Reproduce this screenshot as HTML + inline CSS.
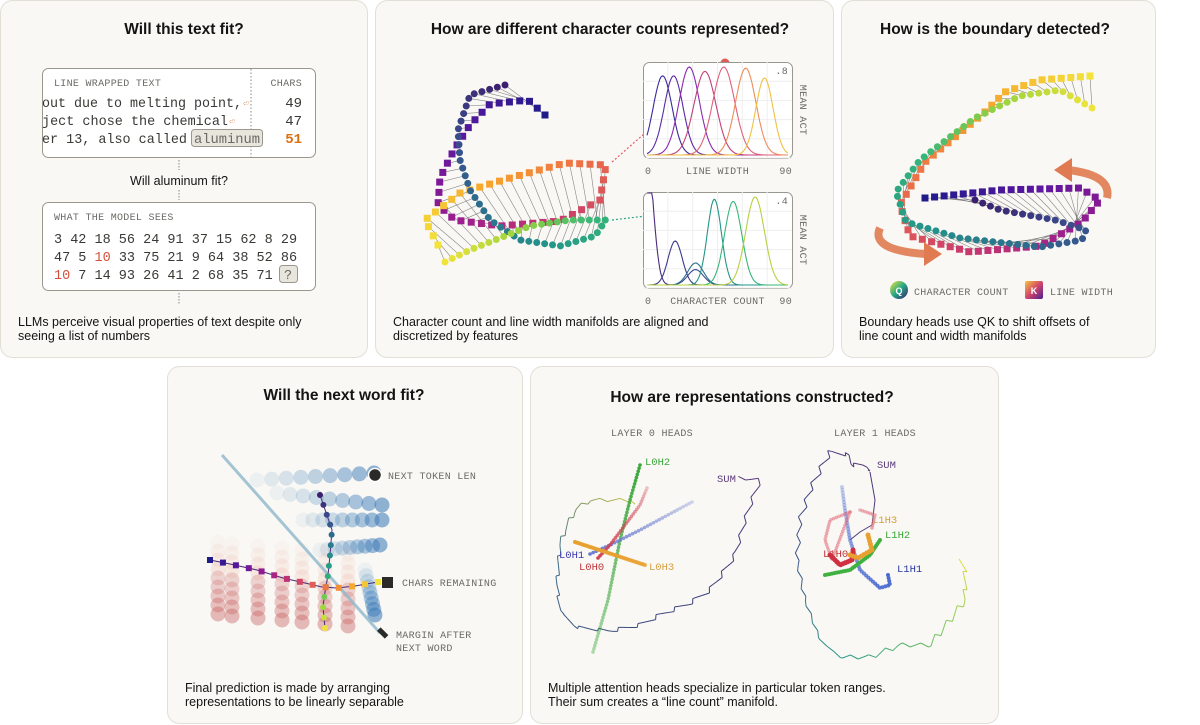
<!DOCTYPE html>
<html><head><meta charset="utf-8">
<style>
html,body{margin:0;padding:0;background:#fff;}
svg{display:block;font-family:"Liberation Sans",sans-serif;}
.mono{font-family:"Liberation Mono",monospace;}
.title{font-weight:bold;font-size:15.5px;fill:#141413;}
.cap{font-size:12.5px;fill:#141413;}
.lbl{font-family:"Liberation Mono",monospace;font-size:10px;fill:#6b6a66;letter-spacing:0.3px;}
</style></head>
<body>
<svg id="root" width="1200" height="725" viewBox="0 0 1200 725" xmlns="http://www.w3.org/2000/svg">
<g fill="#f9f8f4" stroke="#e2dfd6" stroke-width="1">
<rect x="0.5" y="0.5" width="367" height="357" rx="12"/>
<rect x="375.5" y="0.5" width="458" height="357" rx="12"/>
<rect x="841.5" y="0.5" width="314" height="357" rx="12"/>
<rect x="167.5" y="366.5" width="355" height="357" rx="12"/>
<rect x="530.5" y="366.5" width="468" height="357" rx="12"/>
</g>

<g>
<text x="184" y="34" text-anchor="middle" class="title">Will this text fit?</text>
<rect x="42.5" y="68.5" width="273" height="89" rx="6" fill="#fff" stroke="#9a978e"/>
<line x1="251" y1="69" x2="251" y2="157" stroke="#888" stroke-dasharray="1.5,2"/>
<text x="54" y="86" class="lbl">LINE WRAPPED TEXT</text>
<text x="302" y="86" class="lbl" text-anchor="end">CHARS</text>
<g class="mono" font-size="14" fill="#3a3935">
<text x="42" y="107" textLength="200" lengthAdjust="spacingAndGlyphs">out due to melting point,</text><text x="243" y="106" fill="#d98a5a" font-size="9">⏎</text>
<text x="42" y="125" textLength="186" lengthAdjust="spacingAndGlyphs">ject chose the chemical</text><text x="229" y="124" fill="#d98a5a" font-size="9">⏎</text>
<text x="42" y="143" textLength="145" lengthAdjust="spacingAndGlyphs">er 13, also called</text>
<rect x="191.5" y="129.5" width="71" height="17" rx="3" fill="#e8e5dc" stroke="#9a978e"/>
<text x="194" y="143" fill="#6b6a66" textLength="66" lengthAdjust="spacingAndGlyphs">aluminum</text>
<text x="302" y="107" text-anchor="end">49</text>
<text x="302" y="125" text-anchor="end">47</text>
<text x="302" y="143" text-anchor="end" fill="#d9700f" font-weight="bold">51</text>
</g>
<line x1="179" y1="160" x2="179" y2="170" stroke="#888" stroke-dasharray="1.5,1.5"/>
<text x="179" y="185" text-anchor="middle" font-size="12.5" fill="#141413">Will aluminum fit?</text>
<line x1="179" y1="190" x2="179" y2="200" stroke="#888" stroke-dasharray="1.5,1.5"/>
<rect x="42.5" y="202.5" width="273" height="88" rx="6" fill="#fff" stroke="#9a978e"/>
<text x="54" y="220" class="lbl">WHAT THE MODEL SEES</text>
<g class="mono" font-size="13.5" fill="#3a3935">
<text x="54" y="243">3 42 18 56 24 91 37 15 62 8 29</text>
<text x="54" y="261">47 5 <tspan fill="#d4503d">10</tspan> 33 75 21 9 64 38 52 86</text>
<text x="54" y="279"><tspan fill="#d4503d">10</tspan> 7 14 93 26 41 2 68 35 71</text>
<rect x="279.5" y="265.5" width="18" height="17" rx="3" fill="#e8e5dc" stroke="#9a978e"/>
<text x="284" y="279" fill="#6b6a66">?</text>
</g>
<line x1="179" y1="293" x2="179" y2="305" stroke="#888" stroke-dasharray="1.5,1.5"/>
<text x="18" y="326" class="cap"><tspan x="18">LLMs perceive visual properties of text despite only</tspan><tspan x="18" dy="14">seeing a list of numbers</tspan></text>
</g>

<g>
<text x="610" y="34" text-anchor="middle" class="title">How are different character counts represented?</text>
<g id="man2"></g>
<g id="lwchart"></g>
<g id="ccchart"></g>
<text x="393" y="326" class="cap"><tspan x="393">Character count and line width manifolds are aligned and</tspan><tspan x="393" dy="14">discretized by features</tspan></text>
</g>

<g>
<text x="995" y="34" text-anchor="middle" class="title">How is the boundary detected?</text>
<g id="man3"></g>
<defs>
<linearGradient id="gq" x1="0" y1="0" x2="1" y2="1"><stop offset="0" stop-color="#f0e43a"/><stop offset=".5" stop-color="#25a887"/><stop offset="1" stop-color="#3b1f6e"/></linearGradient>
<linearGradient id="gk" x1="0" y1="0" x2="1" y2="1"><stop offset="0" stop-color="#f5c53b"/><stop offset=".5" stop-color="#d2466a"/><stop offset="1" stop-color="#4b1d91"/></linearGradient>
</defs>
<circle cx="899" cy="290" r="9" fill="url(#gq)"/>
<text x="899" y="294" text-anchor="middle" font-size="9" fill="#fff" font-weight="bold">Q</text>
<text x="914" y="295" class="lbl" font-size="10.5">CHARACTER COUNT</text>
<rect x="1025" y="281" width="18" height="18" rx="2" fill="url(#gk)"/>
<text x="1034" y="294" text-anchor="middle" font-size="9" fill="#fff" font-weight="bold">K</text>
<text x="1050" y="295" class="lbl" font-size="10.5">LINE WIDTH</text>
<text x="859" y="326" class="cap"><tspan x="859">Boundary heads use QK to shift offsets of</tspan><tspan x="859" dy="14">line count and width manifolds</tspan></text>
</g>

<g>
<text x="344" y="400" text-anchor="middle" class="title">Will the next word fit?</text>
<g id="p4"></g>
<text x="388" y="479" class="lbl" font-size="10.5" fill="#3a3935">NEXT TOKEN LEN</text>
<text x="402" y="586" class="lbl" font-size="10.5" fill="#3a3935">CHARS REMAINING</text>
<text x="396" y="638" class="lbl" font-size="10.5" fill="#3a3935"><tspan x="396">MARGIN AFTER</tspan><tspan x="396" dy="13">NEXT WORD</tspan></text>
<text x="185" y="692" class="cap"><tspan x="185">Final prediction is made by arranging</tspan><tspan x="185" dy="14">representations to be linearly separable</tspan></text>
</g>

<g>
<text x="752" y="402" text-anchor="middle" class="title">How are representations constructed?</text>
<text x="652" y="436" text-anchor="middle" class="lbl">LAYER 0 HEADS</text>
<text x="875" y="436" text-anchor="middle" class="lbl">LAYER 1 HEADS</text>
<g id="p5"></g>
<g class="mono" font-size="10.5">
<text x="645" y="465" fill="#3aa63a">L0H2</text>
<text x="717" y="482" fill="#5a3a7a">SUM</text>
<text x="559" y="558" fill="#3a3ab0">L0H1</text>
<text x="579" y="570" fill="#c0343a">L0H0</text>
<text x="649" y="570" fill="#d4a040">L0H3</text>
<text x="877" y="468" fill="#5a3a7a">SUM</text>
<text x="872" y="523" fill="#d4a040">L1H3</text>
<text x="885" y="538" fill="#3aa63a">L1H2</text>
<text x="823" y="557" fill="#c0343a">L1H0</text>
<text x="897" y="572" fill="#2a3aa0">L1H1</text>
</g>
<text x="548" y="692" class="cap"><tspan x="548">Multiple attention heads specialize in particular token ranges.</tspan><tspan x="548" dy="14">Their sum creates a “line count” manifold.</tspan></text>
</g>
</svg>

<script>
const NS='http://www.w3.org/2000/svg';
// ---- mini chart data ----
const lwCenters=[10,17,27,37,49,63,75];
const lwHeights=[0.72,0.72,0.80,0.76,0.80,0.79,0.70];
const lwWidths=[6,6,6.5,7,7,6.5,5.5];
const ccCenters=[0,18,31,31,43,55,69];
const ccHeights=[0.6,0.2,0.07,0.1,0.39,0.38,0.40];
const ccWidths=[4,4.5,5,5,4.5,5.5,6];
const xTicks=['0','90'];

function el(tag,attrs,parent){const e=document.createElementNS(NS,tag);for(const k in attrs)e.setAttribute(k,attrs[k]);parent.appendChild(e);return e;}
function lerpColor(stops,t){t=Math.max(0,Math.min(1,t));const n=stops.length-1;const i=Math.min(n-1,Math.floor(t*n));const f=t*n-i;
 const a=stops[i],b=stops[i+1];const p=c=>[parseInt(c.slice(1,3),16),parseInt(c.slice(3,5),16),parseInt(c.slice(5,7),16)];
 const A=p(a),B=p(b);return 'rgb('+A.map((v,k)=>Math.round(v+(B[k]-v)*f)).join(',')+')';}
const PLASMA=['#1f1c8a','#5a16a0','#9b1d8f','#c93a6e','#ec6e48','#f7a42d','#f3e43a'];
const VIRIDIS=['#3b1f6e','#3a4a8c','#2c6f8e','#22958a','#35b779','#9ad53c','#f0e43a'];

function miniChart(g,x0,y0,w,h,centers,heights,widths,yMax,yLabel,xLabel,colors){
 el('rect',{x:x0+.5,y:y0+.5,width:w,height:h,rx:6,fill:'#fff',stroke:'#9a978e'},g);
 for(let i=1;i<6;i++){el('line',{x1:x0+w*i/6,y1:y0,x2:x0+w*i/6,y2:y0+h,stroke:'#eee'},g);el('line',{x1:x0,y1:y0+h*i/5,x2:x0+w,y2:y0+h*i/5,stroke:'#eee'},g);}
 const sx=v=>x0+4+v/90*(w-8), sy=v=>y0+h-3-v/yMax*(h-8);
 centers.forEach((c,i)=>{let d='';for(let v=0;v<=90;v+=0.75){const y=heights[i]*Math.exp(-((v-c)**2)/(2*widths[i]**2));d+=(v?'L':'M')+sx(v).toFixed(1)+','+Math.max(y0+1,sy(y)).toFixed(1);}
  const p=el('path',{d:d,fill:'none',stroke:colors[i],'stroke-width':1.1},g);
  
  });
 const t0=el('text',{x:x0+2,y:y0+h+16,class:'lbl'},g);t0.textContent=xTicks[0];
 const t1=el('text',{x:x0+w,y:y0+h+16,class:'lbl','text-anchor':'end'},g);t1.textContent=xTicks[1];
 const tx=el('text',{x:x0+w/2,y:y0+h+16,class:'lbl','text-anchor':'middle'},g);tx.textContent=xLabel;
 const ty=el('text',{x:x0+w-4,y:y0+12,class:'lbl','text-anchor':'end'},g);ty.textContent=yLabel;
 const ya=el('text',{x:x0+w+8,y:y0+h/2,class:'lbl','text-anchor':'middle',transform:'rotate(90 '+(x0+w+8)+' '+(y0+h/2)+')'},g);ya.textContent='MEAN ACT';
}
miniChart(document.getElementById('lwchart'),643,62,149,96,lwCenters,lwHeights,lwWidths,0.8,'.8','LINE WIDTH',['#3b2a9a','#5a2aa8','#8a2ab0','#c0407a','#e0607a','#f08a5a','#f0c040']);
miniChart(document.getElementById('ccchart'),643,192,149,96,ccCenters,ccHeights,ccWidths,0.4,'.4','CHARACTER COUNT',['#4a2a7a','#3a3a8a','#3a4a8c','#2c6f8e','#22958a','#35b779','#b8d040']);

const g2=document.getElementById('man2');
function polyInterp(pts,n){const L=[0];for(let i=1;i<pts.length;i++)L.push(L[i-1]+Math.hypot(pts[i][0]-pts[i-1][0],pts[i][1]-pts[i-1][1]));
 const T=L[L.length-1],out=[];for(let k=0;k<n;k++){const s=T*k/(n-1);let i=1;while(i<L.length-1&&L[i]<s)i++;const f=(s-L[i-1])/(L[i]-L[i-1]||1);
 out.push([pts[i-1][0]+(pts[i][0]-pts[i-1][0])*f,pts[i-1][1]+(pts[i][1]-pts[i-1][1])*f]);}return out;}
function manifold(g,sqPts,ciPts,n,sq,ci,sqStops,ciStops){
 const S=polyInterp(sqPts,n),C=polyInterp(ciPts,n);
 for(let i=0;i<n;i++)el('line',{x1:S[i][0],y1:S[i][1],x2:C[i][0],y2:C[i][1],stroke:'#555','stroke-width':0.6,opacity:.7},g);
 S.forEach((p,i)=>{const r=el('rect',{x:p[0]-sq/2,y:p[1]-sq/2,width:sq,height:sq,fill:lerpColor(sqStops,i/(n-1))},g);
  
  });
 C.forEach((p,i)=>{const c=el('circle',{cx:p[0],cy:p[1],r:ci/2,fill:lerpColor(ciStops,i/(n-1))},g);
  
  });
}
el('line',{x1:612,y1:162,x2:725,y2:63,stroke:'#e05a6a','stroke-dasharray':'2,2','stroke-width':1.2},g2);
el('line',{x1:612,y1:220,x2:714,y2:208,stroke:'#2aa88a','stroke-dasharray':'2,2','stroke-width':1.2},g2);
manifold(g2,
 [[545,115],[528,100],[490,104],[470,125],[455,148],[440,178],[438,205],[455,220],[500,226],[560,221],[600,200],[606,165],[565,163],[510,178],[460,193],[425,220],[438,245]],
 [[505,85],[470,95],[458,130],[460,160],[470,190],[490,220],[520,240],[560,246],[595,236],[606,220],[570,220],[530,226],[505,236],[470,250],[445,262]],
 60,7,7,PLASMA,VIRIDIS);
el('circle',{cx:725,cy:63,r:4.5,fill:'#e05a5a'},g2);
el('circle',{cx:714,cy:208,r:4.5,fill:'#2aa88a'},g2);

const g3=document.getElementById('man3');
function arrow(g,d,head){el('path',{d:d,fill:'none',stroke:'#e07a50','stroke-width':8,opacity:.9},g);el('polygon',{points:head,fill:'#e07a50'},g);}
arrow(g3,'M1107,198 Q1112,175 1068,170','1054,170 1072,158 1072,182');
manifold(g3,
 [[1090,76],[1040,80],[1005,92],[985,112],[925,162],[900,205],[910,236],[970,252],[1040,246],[1082,222],[1100,200],[1080,188],[1000,190],[925,198]],
 [[1092,108],[1060,90],[1020,96],[975,118],[920,160],[896,192],[906,222],[960,238],[1040,247],[1082,240],[1086,230],[1055,220],[1000,210],[975,200]],
 70,7,7,PLASMA.slice().reverse(),VIRIDIS.slice().reverse());
arrow(g3,'M880,228 Q870,250 925,254','942,254 924,242 924,266');

const g4=document.getElementById('p4');
const blueRows=[[[257,480],[374,473]],[[277,493],[382,505]],[[303,520],[382,520]],[[320,550],[380,545]],[[365,570],[375,615]]];
const redCols=[218,232,258,282,302,325,348];
blueRows.forEach(r=>{const P=polyInterp(r,9);P.forEach((p,i)=>{const c=el('circle',{cx:p[0],cy:p[1],r:7.5,fill:'#3a7ab8',opacity:(0.06+0.5*i/8).toFixed(2)},g4);
 
 });});
redCols.forEach((x,j)=>{for(let k=0;k<9;k++){const y=542+k*9+j*2;const c=el('circle',{cx:x,cy:y,r:7.5,fill:k>3?'#c86060':'#eaa898',opacity:(0.06+0.045*k).toFixed(2)},g4);
 
 }});
el('line',{x1:222,y1:455,x2:380,y2:633,stroke:'#8fb8cc','stroke-width':3,opacity:.8},g4);
const vpath=[[320,495],[332,530],[330,555],[328,575],[325,592],[323,606],[324,618],[325,628]];
const hpath=[[210,560],[230,564],[257,570],[283,578],[305,583],[322,587],[337,588],[355,586],[378,582]];
el('polyline',{points:vpath.map(p=>p.join(',')).join(' '),fill:'none',stroke:'#4a2a7a'},g4);
el('polyline',{points:hpath.map(p=>p.join(',')).join(' '),fill:'none',stroke:'#4a2a7a'},g4);
polyInterp(vpath,14).forEach((p,i)=>el('circle',{cx:p[0],cy:p[1],r:3,fill:lerpColor(VIRIDIS,i/13)},g4));
polyInterp(hpath,14).forEach((p,i)=>el('rect',{x:p[0]-3,y:p[1]-3,width:6,height:6,fill:lerpColor(PLASMA,i/13)},g4));
el('circle',{cx:375,cy:475,r:6.5,fill:'#2a2a28',stroke:'#fff','stroke-width':1.5},g4);
el('rect',{x:382,y:577,width:11,height:11,fill:'#2a2a28'},g4);
el('rect',{x:377,y:630,width:11,height:5,fill:'#2a2a28',transform:'rotate(45 382 633)'},g4);

const g5=document.getElementById('p5');
function wig(pts,n,amp){const P=polyInterp(pts,n);return P.map((p,i)=>[p[0]+((i*7919)%5-2)*amp*0.5,p[1]+((i*104729)%5-2)*amp*0.5]);}
function gradLine(pts,stops,w){for(let i=1;i<pts.length;i++)el('line',{x1:pts[i-1][0],y1:pts[i-1][1],x2:pts[i][0],y2:pts[i][1],stroke:lerpColor(stops,i/pts.length),'stroke-width':w||1},g5);}
gradLine(wig([[740,478],[760,480],[752,500],[745,520],[735,555],[725,570],[710,590],[690,603],[660,615],[640,625],[610,631],[575,627],[560,610],[557,585],[560,545],[565,530],[575,510],[590,500],[630,500],[636,505]],120,1.6),['#5a3a7a','#3a3a7a','#3a4a7a','#3a6a8a','#c8c840']);
function dots(pts,n,color,rad,op0,op1){polyInterp(pts,n).forEach((p,i)=>{const c=el('circle',{cx:p[0],cy:p[1],r:rad,fill:color,opacity:(op0+(op1-op0)*i/(n-1)).toFixed(2)},g5);
 
 });}
dots([[640,465],[630,500],[620,540],[608,600],[593,652]],60,'#3aa63a',1.8,1,0.4);
dots([[590,554],[610,545],[640,530],[692,502]],35,'#6a7ad0',1.8,1,0.3);
dots([[598,558],[610,545],[625,525],[640,505],[647,488]],30,'#d04050',1.8,1,0.3);
dots([[575,542],[645,565]],40,'#e8a030',2,1,0.8);
gradLine(wig([[870,472],[865,465],[850,465],[850,455],[830,452],[820,470],[810,490],[800,520],[797,560],[805,600],[820,640],[840,657],[870,657],[900,645],[930,645],[950,620],[965,600],[965,570],[960,560]],130,2),['#5a3a7a','#3a3a7a','#3a5a8a','#2a9a8a','#6ac060','#e0e040']);
el('polyline',{points:'870,472 875,500 872,525 860,532 850,540',fill:'none',stroke:'#4a3a7a'},g5);
dots([[842,487],[845,510],[850,540],[860,570],[880,588],[890,585],[888,575]],45,'#4a6ad0',2,0.3,1);
dots([[850,512],[830,520],[825,540],[832,560],[850,512]],40,'#e06070',1.8,0.5,0.5);
dots([[860,510],[875,515],[872,528]],12,'#e07080',1.8,0.5,0.6);
dots([[830,555],[840,565],[852,560],[853,550]],16,'#d03040',2.5,1,1);
dots([[825,575],[850,570],[870,555],[880,540]],30,'#40b040',2,1,1);
dots([[868,535],[872,550],[858,558],[850,555]],14,'#e8a030',2.5,1,1);
</script>
</body></html>
